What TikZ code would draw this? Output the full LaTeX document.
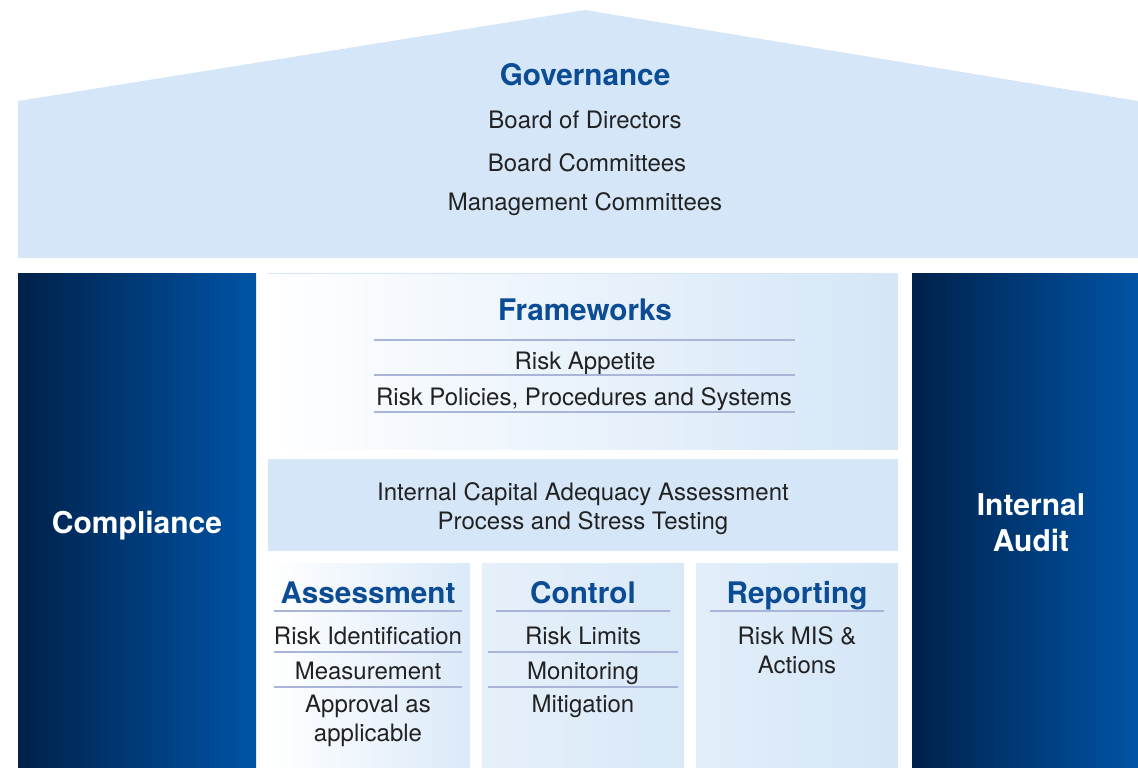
\documentclass[tikz,border=0pt]{standalone}
\usepackage{fontspec}
\setmainfont{TeX Gyre Heros}
\definecolor{roof}{HTML}{D4E6F7}
\definecolor{pilldark}{HTML}{00214A}
\definecolor{pilllight}{HTML}{0054A6}
\definecolor{headblue}{HTML}{0B4C94}
\definecolor{bodytext}{HTML}{222222}
\definecolor{sepline}{HTML}{A9B4D8}
\definecolor{paleblue}{HTML}{E6F0FA}
\begin{document}
\begin{tikzpicture}[x=1pt,y=-1pt,
  head/.style={anchor=base,text=headblue,font=\fontsize{29.7}{34}\selectfont\bfseries,inner sep=0pt},
  body/.style={anchor=base,text=bodytext,font=\fontsize{24}{28}\selectfont,inner sep=0pt},
  pillar/.style={anchor=base,text=white,font=\fontsize{30}{34}\selectfont\bfseries,inner sep=0pt},
  sep/.style={draw=sepline,line width=1.4pt}]
\useasboundingbox (0,0) rectangle (1138,768);
% roof
\fill[roof] (18,258) -- (18,101) -- (585,10) -- (1138,101) -- (1138,258) -- cycle;
% pillars
\shade[left color=pilldark,right color=pilllight] (18,273) rectangle (256,768);
\shade[left color=pilldark,right color=pilllight] (912,273) rectangle (1138,768);
% frameworks box
\shade[shading=axis,shading angle=70,left color=white,right color=roof] (268,273) rectangle (898,449);
\draw[roof,line width=0.8pt] (268,273.5) -- (898,273.5);
% ICAAP box
\fill[roof] (268,459) rectangle (898,551);
% lower boxes
\shade[shading=axis,shading angle=75,left color=white,right color=roof!85!white] (268,563) rectangle (470,768);
\shade[shading=axis,shading angle=75,left color=paleblue,right color=roof!90!white] (482,563) rectangle (684,768);
\shade[shading=axis,shading angle=75,left color=paleblue!80!roof,right color=roof] (696,563) rectangle (898,768);
% texts: governance
\node[head] (gov) at (585,85) {Governance};
\node[body] (bod) at (585,128.5) {Board of Directors};
\node[body] (bc) at (587,171.5) {Board Committees};
\node[body] (mc) at (585,210.5) {Management Committees};
% frameworks
\node[head] (fw) at (585,320.5) {Frameworks};
\draw[sep] (374,340) -- (795,340);
\node[body] (ra) at (585,369.5) {Risk Appetite};
\draw[sep] (374,375) -- (795,375);
\node[body] (rp) at (584,405.5) {Risk Policies, Procedures and Systems};
\draw[sep] (374,412) -- (795,412);
% ICAAP
\node[body] (ic1) at (583,500.5) {Internal Capital Adequacy Assessment};
\node[body] (ic2) at (583,529.5) {Process and Stress Testing};
% assessment
\node[head] (as) at (368,603.5) {Assessment};
\draw[sep] (274,611) -- (462,611);
\node[body] (ri) at (368,644.5) {Risk Identification};
\draw[sep] (274,652) -- (462,652);
\node[body] (me) at (368,679.5) {Measurement};
\draw[sep] (274,687) -- (462,687);
\node[body] (ap1) at (368,712.5) {Approval as};
\node[body] (ap2) at (368,741.5) {applicable};
% control
\node[head] (co) at (583,603.5) {Control};
\draw[sep] (496,611) -- (670,611);
\node[body] (rl) at (583,644.5) {Risk Limits};
\draw[sep] (488,652) -- (678,652);
\node[body] (mo) at (583,679.5) {Monitoring};
\draw[sep] (488,687) -- (678,687);
\node[body] (mi) at (583,712.5) {Mitigation};
% reporting
\node[head] (re) at (797,603.5) {Reporting};
\draw[sep] (710,611) -- (884,611);
\node[body] (rm1) at (797,644.5) {Risk MIS \&};
\node[body] (rm2) at (797,673.5) {Actions};
% pillars text
\node[pillar] (comp) at (137,533.5) {Compliance};
\node[pillar] (ia1) at (1031,515.5) {Internal};
\node[pillar] (ia2) at (1031,551.5) {Audit};
\end{tikzpicture}
\end{document}
